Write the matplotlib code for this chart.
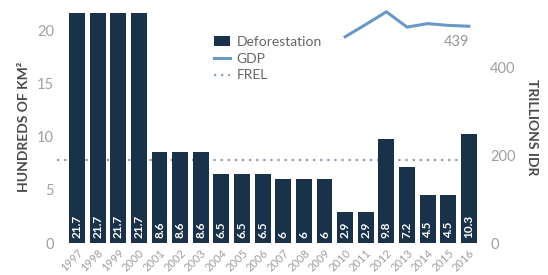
import matplotlib
matplotlib.use('Agg')
import matplotlib.pyplot as plt
import numpy as np
from matplotlib.lines import Line2D
from matplotlib.patches import Patch

plt.rcParams['font.family'] = ['Lato', 'DejaVu Sans']

years = [str(y) for y in range(1997, 2017)]
deforestation = [21.7, 21.7, 21.7, 21.7, 8.6, 8.6, 8.6, 6.5, 6.5, 6.5,
                 6, 6, 6, 2.9, 2.9, 9.8, 7.2, 4.5, 4.5, 10.3]
bar_labels = ['21.7', '21.7', '21.7', '21.7', '8.6', '8.6', '8.6', '6.5', '6.5', '6.5',
              '6', '6', '6', '2.9', '2.9', '9.8', '7.2', '4.5', '4.5', '10.3']
gdp_years = [2010, 2011, 2012, 2013, 2014, 2015, 2016]
gdp = [470, 498, 527, 492, 500, 496, 494]
gdp_last_label = '439'
frel = 7.8

bar_color = '#1a3249'
gdp_color = '#6a98c6'
frel_color = '#8a9db3'
tick_color = '#a0a0a0'
label_color = '#4a4a4a'

fig = plt.figure(figsize=(5.48, 2.75), dpi=100)
ax = fig.add_axes([0.104, 0.116, 0.778, 0.846])
x = np.arange(len(years))

ax.plot([-0.97, len(years) - 1], [frel, frel], linestyle=(0, (1, 2.2)), color=frel_color,
        lw=1.6, zorder=1)
ax.bar(x, deforestation, width=0.77, color=bar_color, zorder=2)
for xi, lab in zip(x, bar_labels):
    ax.text(xi, 0.45, lab, rotation=90, ha='center', va='bottom', color='white',
            fontsize=8.5, fontweight='bold', zorder=3)

ax.set_xlim(-0.97, 19.7)
ax.set_ylim(0, 21.9)
ax.set_yticks([0, 5, 10, 15, 20])
ax.set_xticks(x)
ax.set_xticklabels(years, rotation=45, ha='right', rotation_mode='anchor')
ax.tick_params(axis='x', length=0, labelsize=8, colors=tick_color, pad=3)
ax.tick_params(axis='y', length=0, labelsize=10.5, colors=tick_color, pad=2)
for s in ax.spines.values():
    s.set_visible(False)
ax.set_ylabel('HUNDREDS OF KM²', fontsize=10, color=label_color, fontweight='bold', labelpad=5)

ax2 = ax.twinx()
gx = [g - 1997 for g in gdp_years]
ax2.plot(gx, gdp, color=gdp_color, lw=2.2, zorder=4)
ax2.text(gx[-1], gdp[-1] - 20, gdp_last_label, ha='right', va='top', color='#999999', fontsize=10.5)
ax2.set_ylim(0, 530)
ax2.set_yticks([0, 200, 400])
ax2.tick_params(axis='y', length=0, labelsize=10.5, colors=tick_color, pad=5)
for s in ax2.spines.values():
    s.set_visible(False)
ax2.set_ylabel('TRILLIONS IDR', fontsize=10, color=label_color, fontweight='bold',
               rotation=270, labelpad=16)

handles = [Patch(facecolor=bar_color, edgecolor='none'),
           Line2D([0], [0], color=gdp_color, lw=2.2),
           Line2D([0], [0], color=frel_color, lw=1.6, linestyle=(0, (1, 2.2)))]
ax.legend(handles, ['Deforestation', 'GDP', 'FREL'], loc='upper left',
          bbox_to_anchor=(0.34, 0.945), frameon=False, fontsize=10, handlelength=1.1,
          handletextpad=0.5, labelspacing=0.35, labelcolor='#666666')

fig.savefig('out.png', dpi=100)
